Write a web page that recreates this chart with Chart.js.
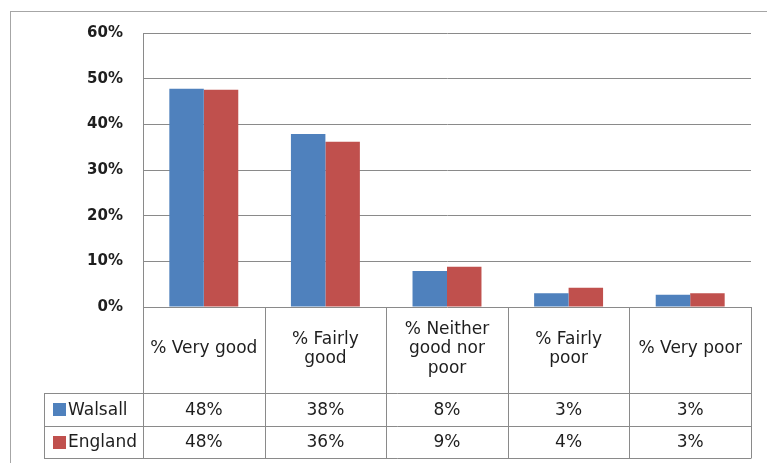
<!DOCTYPE html>
<html>
<head>
<meta charset="utf-8">
<script src="https://cdn.jsdelivr.net/npm/chart.js@4/dist/chart.umd.min.js"></script>
<style>
  html, body { margin: 0; padding: 0; background: #fff; }
  canvas { display: block; }
</style>
</head>
<body>
<canvas id="chart" width="767" height="463"></canvas>
<script>
// categories, one entry per line of the table header
const categories = [
  ["% Very good"],
  ["% Fairly", "good"],
  ["% Neither", "good nor", "poor"],
  ["% Fairly", "poor"],
  ["% Very poor"]
];
const walsall = [47.8, 37.9, 7.9, 3.0, 2.7];
const england = [47.6, 36.2, 8.8, 4.2, 3.0];
const seriesNames = ["Walsall", "England"];
const seriesColors = ["#4F81BD", "#C0504D"];

const lineColor = "#8a8a8a";
const textColor = "#1e1e1e";
const tableFont = "17px 'DejaVu Sans'";

// draws the data table under the plot and the outer frame
const tablePlugin = {
  id: "dataTable",
  afterDraw(chart) {
    const ctx = chart.ctx;
    const area = chart.chartArea;
    const n = categories.length;
    const colW = (area.right - area.left) / n;
    const top = area.bottom;
    const headH = 86;
    const rowH = 32.5;
    const legendLeft = 44;
    const bottom = top + headH + rowH * 2;

    ctx.save();
    // outer frame
    ctx.strokeStyle = "#a6a6a6";
    ctx.lineWidth = 1;
    ctx.strokeRect(10.5, 11.5, 900, 600);

    ctx.strokeStyle = lineColor;
    ctx.beginPath();
    for (let i = 0; i <= n; i++) {
      const x = Math.round(area.left + colW * i) + 0.5;
      ctx.moveTo(x, top);
      ctx.lineTo(x, bottom);
    }
    [top + headH, top + headH + rowH, bottom].forEach((y) => {
      const yy = Math.round(y) + 0.5;
      ctx.moveTo(legendLeft, yy);
      ctx.lineTo(area.right + 0.5, yy);
    });
    ctx.moveTo(legendLeft + 0.5, top + headH);
    ctx.lineTo(legendLeft + 0.5, bottom);
    ctx.stroke();

    ctx.fillStyle = textColor;
    ctx.font = tableFont;
    ctx.textAlign = "center";
    ctx.textBaseline = "middle";
    const lineH = 19.5;
    categories.forEach((lines, i) => {
      const cx = area.left + colW * (i + 0.5);
      const cy = top + headH / 2 - 1;
      lines.forEach((t, j) => {
        ctx.fillText(t, cx, cy + (j - (lines.length - 1) / 2) * lineH);
      });
    });

    const rows = [walsall, england];
    rows.forEach((vals, r) => {
      const cy = top + headH + rowH * (r + 0.5) + 1;
      ctx.fillStyle = seriesColors[r];
      ctx.fillRect(53, Math.round(cy - 7), 13, 13);
      ctx.fillStyle = textColor;
      ctx.textAlign = "left";
      ctx.fillText(seriesNames[r], 68, cy);
      ctx.textAlign = "center";
      vals.forEach((v, i) => {
        ctx.fillText(Math.round(v) + "%", area.left + colW * (i + 0.5), cy);
      });
    });
    ctx.restore();
  }
};

new Chart(document.getElementById("chart").getContext("2d"), {
  type: "bar",
  data: {
    labels: categories,
    datasets: [
      { label: seriesNames[0], data: walsall, backgroundColor: seriesColors[0] },
      { label: seriesNames[1], data: england, backgroundColor: seriesColors[1] }
    ]
  },
  options: {
    responsive: false,
    animation: false,
    layout: { padding: { left: 0, top: 33, right: 16, bottom: 156 } },
    datasets: {
      bar: { categoryPercentage: 0.567, barPercentage: 1 }
    },
    plugins: {
      legend: { display: false },
      tooltip: { enabled: false }
    },
    scales: {
      x: { display: false },
      y: {
        min: 0,
        max: 60,
        afterFit: (scale) => { scale.width = 143; },
        ticks: {
          stepSize: 10,
          padding: 20,
          color: textColor,
          font: { family: "'DejaVu Sans'", size: 15, weight: "bold" },
          callback: (v) => v + "%"
        },
        grid: { color: lineColor, drawTicks: false },
        border: { color: lineColor }
      }
    }
  },
  plugins: [tablePlugin]
});
</script>
</body>
</html>
